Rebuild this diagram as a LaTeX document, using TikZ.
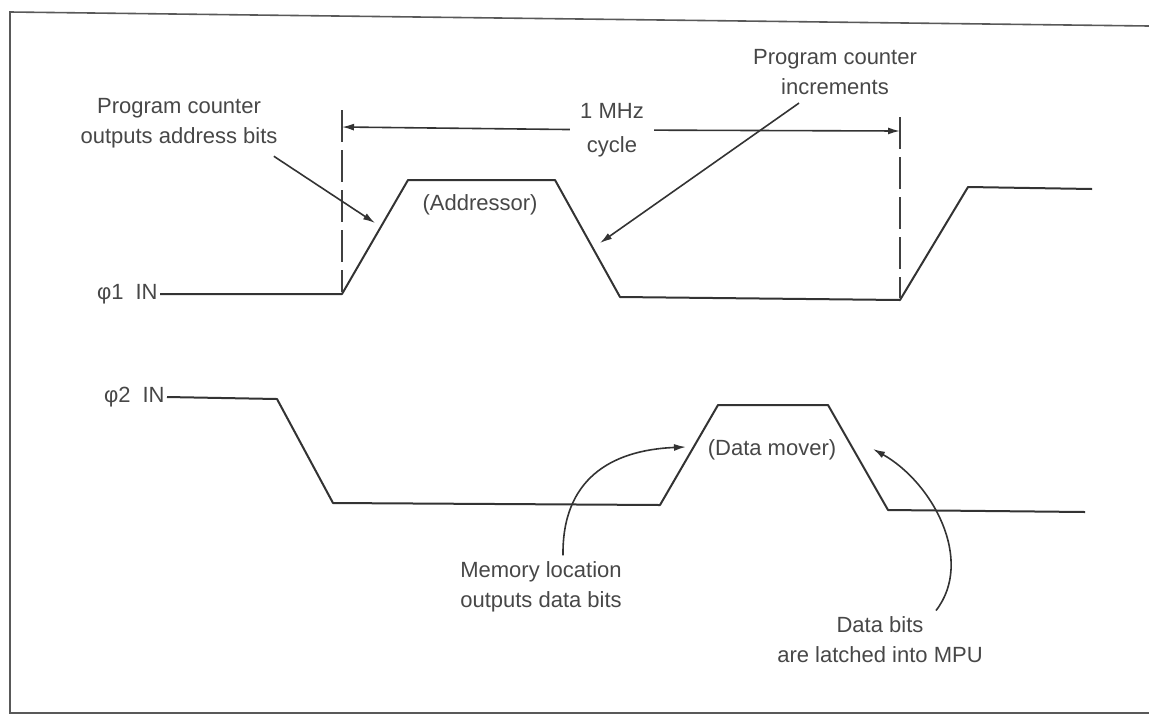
\documentclass[tikz,border=0pt]{standalone}
\usepackage{fontspec}
\setmainfont{Liberation Sans}
\usetikzlibrary{arrows.meta}
\begin{document}
\begin{tikzpicture}[x=0.5pt,y=-0.5pt,
  lbl/.style={font=\fontsize{11}{15}\selectfont, text=black!72, align=center, inner sep=1pt},
  wave/.style={draw=black!80, line width=1pt, line join=round},
  guide/.style={draw=black!75, line width=0.9pt, dash pattern=on 16pt off 4pt},
  ptr/.style={draw=black!80, line width=0.8pt, -{Latex[length=6pt,width=3.5pt]}},
  frame/.style={draw=black!65, line width=0.8pt}]
\useasboundingbox (0,0) rectangle (1149,718);
% frame
\draw[frame] (1149,26) -- (10,12) -- (10,713) -- (1149,713);

% phi 1 waveform
\node[lbl, anchor=east] (p1) at (160,294) {φ1\hspace{6pt}IN};
\coordinate (a1) at (342,294);
\coordinate (a2) at (408,180);
\coordinate (a3) at (555,180);
\coordinate (a4) at (620,297);
\coordinate (a5) at (900,300);
\coordinate (a6) at (968,187);
\coordinate (a7) at (1092,189);
\draw[wave] (p1.east) -- (a1) -- (a2) -- (a3) -- (a4) -- (a5) -- (a6) -- (a7);
\node[lbl] (adr) at (480,205) {(Addressor)};

% phi 2 waveform
\node[lbl, anchor=east] (p2) at (167,397) {φ2\hspace{6pt}IN};
\coordinate (b1) at (277,399);
\coordinate (b2) at (333,503);
\coordinate (b3) at (660,505);
\coordinate (b4) at (718,405);
\coordinate (b5) at (828,405);
\coordinate (b6) at (888,510);
\coordinate (b7) at (1085,512);
\draw[wave] (p2.east) -- (b1) -- (b2) -- (b3) -- (b4) -- (b5) -- (b6) -- (b7);
\node[lbl] (dmv) at (772,450) {(Data mover)};

% cycle markers
\coordinate (gL1) at (342,110);
\coordinate (gL2) at (342,292);
\coordinate (gR1) at (900,117);
\coordinate (gR2) at (900,298);
\draw[guide] (gL1) -- (gL2);
\draw[guide] (gR1) -- (gR2);
\node[lbl, font=\fontsize{11}{17}\selectfont, inner xsep=5pt] (mhz) at (612,130) {1 MHz\\cycle};
\coordinate (cl) at (342,127);
\coordinate (cr) at (900,131);
\draw[ptr] (mhz) -- (cl);
\draw[ptr] (mhz) -- (cr);

% annotations
\node[lbl] (pca) at (179,123) {Program counter\\outputs address bits};
\coordinate (pcaT) at (375,223);
\draw[ptr] ([xshift=-3pt,yshift=-3pt]pca.south east) -- (pcaT);

\node[lbl] (pci) at (835,72) {Program counter\\increments};
\coordinate (pciT) at (600,243);
\draw[ptr] ([xshift=-18pt,yshift=-3pt]pci.south) -- (pciT);

\node[lbl] (mem) at (541,587) {Memory location\\outputs data bits};
\coordinate (memT) at (686,447);
\draw[ptr] ([xshift=11pt,yshift=2pt]mem.north) .. controls (562,480) and (610,450) .. (memT);

\node[lbl] (dbt) at (880,640) {Data bits\\are latched into MPU};
\coordinate (dbtT) at (873,449);
\draw[ptr] ([xshift=28pt,yshift=2pt]dbt.north) .. controls (975,560) and (932,482) .. (dbtT);
\end{tikzpicture}
\end{document}
